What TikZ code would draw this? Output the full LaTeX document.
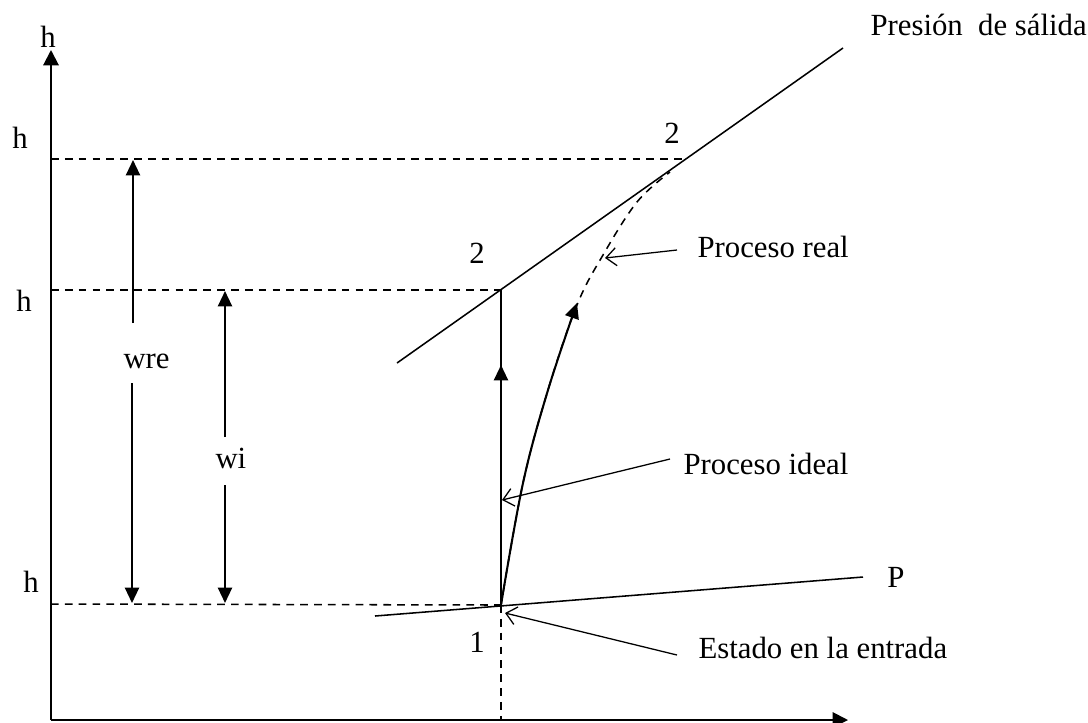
\documentclass[tikz,border=0pt]{standalone}
\usepackage{fontspec}
\setmainfont{Liberation Serif}
\usetikzlibrary{arrows.meta,positioning}
\tikzset{
  axisline/.style={line width=0.8pt, -{Triangle[length=6pt,width=6pt]}},
  guide/.style={line width=0.6pt, dash pattern=on 3pt off 2.4pt},
  isobar/.style={line width=0.6pt},
  workarrow/.style={line width=0.8pt, -{Triangle[length=6pt,width=5.5pt]}},
  pointer/.style={line width=0.5pt, -{Straight Barb[length=4pt,width=7pt]}},
  lbl/.style={inner sep=0pt, font=\fontsize{12}{14}\selectfont}
}
\begin{document}
\begin{tikzpicture}[x=0.39pt,y=-0.39pt,>=Latex]
  \useasboundingbox (0,0) rectangle (1088,722);
  % axes
  \coordinate (orig) at (51,720);
  \coordinate (ytip) at (51,50);
  \coordinate (xtip) at (848,720);
  \draw[axisline] (orig) -- (ytip);
  \draw[axisline] (orig) -- (xtip);
  \node[lbl,anchor=base] (haxis) at (48,47) {h};
  % states
  \coordinate (st1) at (501,605);
  \coordinate (st2s) at (501,290);
  \coordinate (st2) at (686,159);
  \coordinate (lvtwo) at (51,159);
  \coordinate (lvtwos) at (51,290);
  \coordinate (lvone) at (51,604);
  \coordinate (xone) at (501,720);
  \draw[guide] (lvtwo) -- (st2);
  \draw[guide] (lvtwos) -- (st2s);
  \draw[guide] (lvone) -- (st1);
  \draw[guide] (st1) -- (xone);
  \node[lbl,anchor=base] (htwo) at (20,148) {h};
  \node[lbl,anchor=base] (htwos) at (24,311) {h};
  \node[lbl,anchor=base] (hone) at (31,592) {h};
  % isobars
  \coordinate (hiA) at (397,363);
  \coordinate (hiB) at (843,48);
  \coordinate (loA) at (375,616);
  \coordinate (loB) at (863,577);
  \draw[isobar] (hiA) -- (hiB);
  \draw[isobar] (loA) -- (loB);
  \node[lbl,anchor=base west] (psal) at (870,35) {Presión\ \ de sálida};
  \node[lbl,anchor=base] (pent) at (896,587) {P};
  \node[lbl,anchor=base] (ntwos) at (477,263) {2};
  \node[lbl,anchor=base] (ntwo) at (672,143) {2};
  \node[lbl,anchor=base] (none) at (477,652) {1};
  % work arrows
  \node[lbl,anchor=base west] (wre) at (123,368) {wre};
  \node[lbl,anchor=base west] (wi) at (215,468) {wi};
  \coordinate (wreU) at (133,323);
  \coordinate (wreUt) at (133,160);
  \coordinate (wreD) at (132,383);
  \coordinate (wreDt) at (132,603);
  \coordinate (wiU) at (225,437);
  \coordinate (wiUt) at (225,291);
  \coordinate (wiD) at (225,485);
  \coordinate (wiDt) at (225,603);
  \draw[workarrow] (wreU) -- (wreUt);
  \draw[workarrow] (wreD) -- (wreDt);
  \draw[workarrow] (wiU) -- (wiUt);
  \draw[workarrow] (wiD) -- (wiDt);
  % processes
  \coordinate (idmid) at (501,365);
  \draw[isobar] (st1) -- (st2s);
  \draw[workarrow] (st1) -- (idmid);
  \draw[guide] plot[smooth,tension=0.6] coordinates
    {(501,605) (523,483) (548,390) (577,305) (603,255) (637,202) (670,172)};
  \draw[workarrow] plot[smooth,tension=0.6] coordinates
    {(501,605) (523,483) (548,390) (577,303)};
  % notes
  \node[lbl,anchor=base west] (preal) at (697,257) {Proceso real};
  \node[lbl,anchor=base west] (pideal) at (683,474) {Proceso ideal};
  \node[lbl,anchor=base west] (pentr) at (698,658) {Estado en la entrada};
  \coordinate (realA) at (677,250);
  \coordinate (realB) at (605,258);
  \coordinate (idealA) at (670,459);
  \coordinate (idealB) at (502,500);
  \coordinate (entrA) at (677,655);
  \coordinate (entrB) at (505,613);
  \draw[pointer] (realA) -- (realB);
  \draw[pointer] (idealA) -- (idealB);
  \draw[pointer] (entrA) -- (entrB);
\end{tikzpicture}
\end{document}
